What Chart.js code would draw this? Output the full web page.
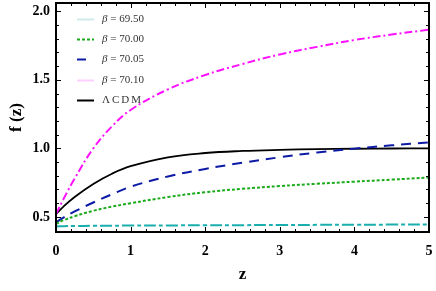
<!DOCTYPE html>
<html>
<head>
<meta charset="utf-8">
<script src="https://cdn.jsdelivr.net/npm/chart.js@4/dist/chart.umd.min.js"></script>
<style>
html,body{margin:0;padding:0;background:#fff;}
canvas{display:block;}
</style>
</head>
<body>
<canvas id="c" width="436" height="291"></canvas>
<script>
// ---- data ----
const zValues   = [0, 0.1, 0.25, 0.5, 0.75, 1, 1.5, 2, 2.5, 3, 3.5, 4, 4.5, 5];
const beta6950  = [0.43, 0.432, 0.434, 0.435, 0.436, 0.437, 0.438, 0.439, 0.44, 0.441, 0.442, 0.443, 0.444, 0.445];
const beta7000  = [0.45, 0.475, 0.505, 0.545, 0.575, 0.60, 0.645, 0.68, 0.705, 0.725, 0.742, 0.757, 0.772, 0.787];
const beta7005  = [0.46, 0.495, 0.54, 0.605, 0.665, 0.72, 0.795, 0.85, 0.895, 0.935, 0.97, 0.998, 1.022, 1.043];
const beta7010  = [0.52, 0.63, 0.78, 1.00, 1.16, 1.28, 1.43, 1.535, 1.615, 1.685, 1.74, 1.79, 1.83, 1.865];
const lcdm      = [0.52, 0.575, 0.645, 0.74, 0.815, 0.87, 0.935, 0.966, 0.981, 0.989, 0.994, 0.997, 0.999, 1.0];
const xTickLabels = [0, 1, 2, 3, 4, 5];
const yTickLabels = [0.5, 1.0, 1.5, 2.0];
const legendNames = ['69.50', '70.00', '70.05', '70.10', 'ΛCDM'];

const pts = arr => zValues.map((z, i) => ({x: z, y: arr[i]}));
const serif = "'Liberation Serif', 'DejaVu Serif', serif";

const datasets = [
  {label: legendNames[0], data: pts(beta6950), borderColor: '#1aaeae', borderWidth: 2, borderDash: [12, 3, 4, 3]},
  {label: legendNames[1], data: pts(beta7000), borderColor: '#1aaa1a', borderWidth: 2, borderDash: [3, 2]},
  {label: legendNames[2], data: pts(beta7005), borderColor: '#0d1aa6', borderWidth: 2, borderDash: [10, 7]},
  {label: legendNames[3], data: pts(beta7010), borderColor: '#ff10ff', borderWidth: 2, borderDash: [8, 3, 2, 3]},
  {label: legendNames[4], data: pts(lcdm), borderColor: '#000000', borderWidth: 1.8, borderDash: []}
].map(d => Object.assign(d, {pointRadius: 0, fill: false, tension: 0.4}));

const legendStyles = [
  {color: '#cfeaea', dash: [], x2: 94},
  {color: '#1aaa1a', dash: [3, 2], x2: 94},
  {color: '#0d1aa6', dash: [], x2: 86},
  {color: '#ffd0ff', dash: [], x2: 94},
  {color: '#000000', dash: [], x2: 94}
];

const framePlugin = {
  id: 'frame',
  afterDatasetsDraw(chart) {
    const {ctx, chartArea: {left, right, top, bottom}, scales: {x, y}} = chart;
    ctx.save();
    ctx.strokeStyle = '#000';
    ctx.lineWidth = 1;
    ctx.setLineDash([]);
    for (let k = 0; k <= 25; k++) {
      const v = k / 5;
      const px = Math.round(x.getPixelForValue(v)) + 0.5;
      const len = (k % 5 === 0) ? 5 : 3;
      ctx.beginPath();
      ctx.moveTo(px, bottom); ctx.lineTo(px, bottom - len);
      ctx.moveTo(px, top); ctx.lineTo(px, top + len);
      ctx.stroke();
    }
    for (let k = 4; k <= 20; k++) {
      const v = k / 10;
      const py = Math.round(y.getPixelForValue(v)) + 0.5;
      const len = (k % 5 === 0) ? 5 : 3;
      ctx.beginPath();
      ctx.moveTo(left, py); ctx.lineTo(left + len, py);
      ctx.moveTo(right, py); ctx.lineTo(right - len, py);
      ctx.stroke();
    }
    ctx.lineWidth = 2;
    ctx.strokeRect(left, top, right - left, bottom - top);

    const y0 = 19, dy = 20.2;
    legendNames.forEach((name, i) => {
      const st = legendStyles[i];
      const yy = Math.round(y0 + i * dy) + 0.5;
      ctx.strokeStyle = st.color;
      ctx.lineWidth = 2;
      ctx.setLineDash(st.dash);
      ctx.beginPath();
      ctx.moveTo(77, yy); ctx.lineTo(st.x2, yy);
      ctx.stroke();
      ctx.setLineDash([]);
      ctx.fillStyle = '#333';
      ctx.textBaseline = 'middle';
      ctx.textAlign = 'left';
      if (i < 4) {
        ctx.font = "italic 11px " + serif;
        ctx.fillText('β', 102, yy);
        const bw = ctx.measureText('β').width;
        ctx.font = "11px " + serif;
        ctx.fillText(' = ' + name, 102 + bw, yy);
      } else {
        ctx.font = "11px " + serif;
        try { ctx.letterSpacing = '2px'; } catch (e) {}
        ctx.fillText(name, 102, yy);
        try { ctx.letterSpacing = '0px'; } catch (e) {}
      }
    });
    ctx.restore();
  }
};

new Chart(document.getElementById('c'), {
  type: 'line',
  data: {datasets},
  options: {
    responsive: false,
    animation: false,
    events: [],
    layout: {padding: {top: 3, right: 7, left: 0, bottom: 0}},
    plugins: {legend: {display: false}, tooltip: {enabled: false}},
    scales: {
      x: {
        type: 'linear', min: 0, max: 5,
        afterBuildTicks: s => { s.ticks = xTickLabels.map(v => ({value: v})); },
        afterFit: s => { s.height = 59; s.paddingLeft = 0; s.paddingRight = 0; },
        grid: {display: false, drawTicks: false},
        border: {display: false},
        ticks: {color: '#000', padding: 11, maxRotation: 0, font: {family: serif, weight: 'bold', size: 14},
                callback: v => String(v)},
        title: {display: true, text: 'z', color: '#000', font: {family: serif, weight: 'bold', size: 17},
                padding: {top: 0, bottom: 6}}
      },
      y: {
        type: 'linear', min: 0.39, max: 2.06,
        afterBuildTicks: s => { s.ticks = yTickLabels.map(v => ({value: v})); },
        afterFit: s => { s.width = 56; s.paddingTop = 0; s.paddingBottom = 0; },
        grid: {display: false, drawTicks: false},
        border: {display: false},
        ticks: {color: '#000', padding: 6, font: {family: serif, weight: 'bold', size: 14},
                callback: v => Number(v).toFixed(1)},
        title: {display: true, text: 'f (z)', color: '#000', font: {family: serif, weight: 'bold', size: 17},
                padding: {top: 6, bottom: 0}}
      }
    }
  },
  plugins: [framePlugin]
});
</script>
</body>
</html>
